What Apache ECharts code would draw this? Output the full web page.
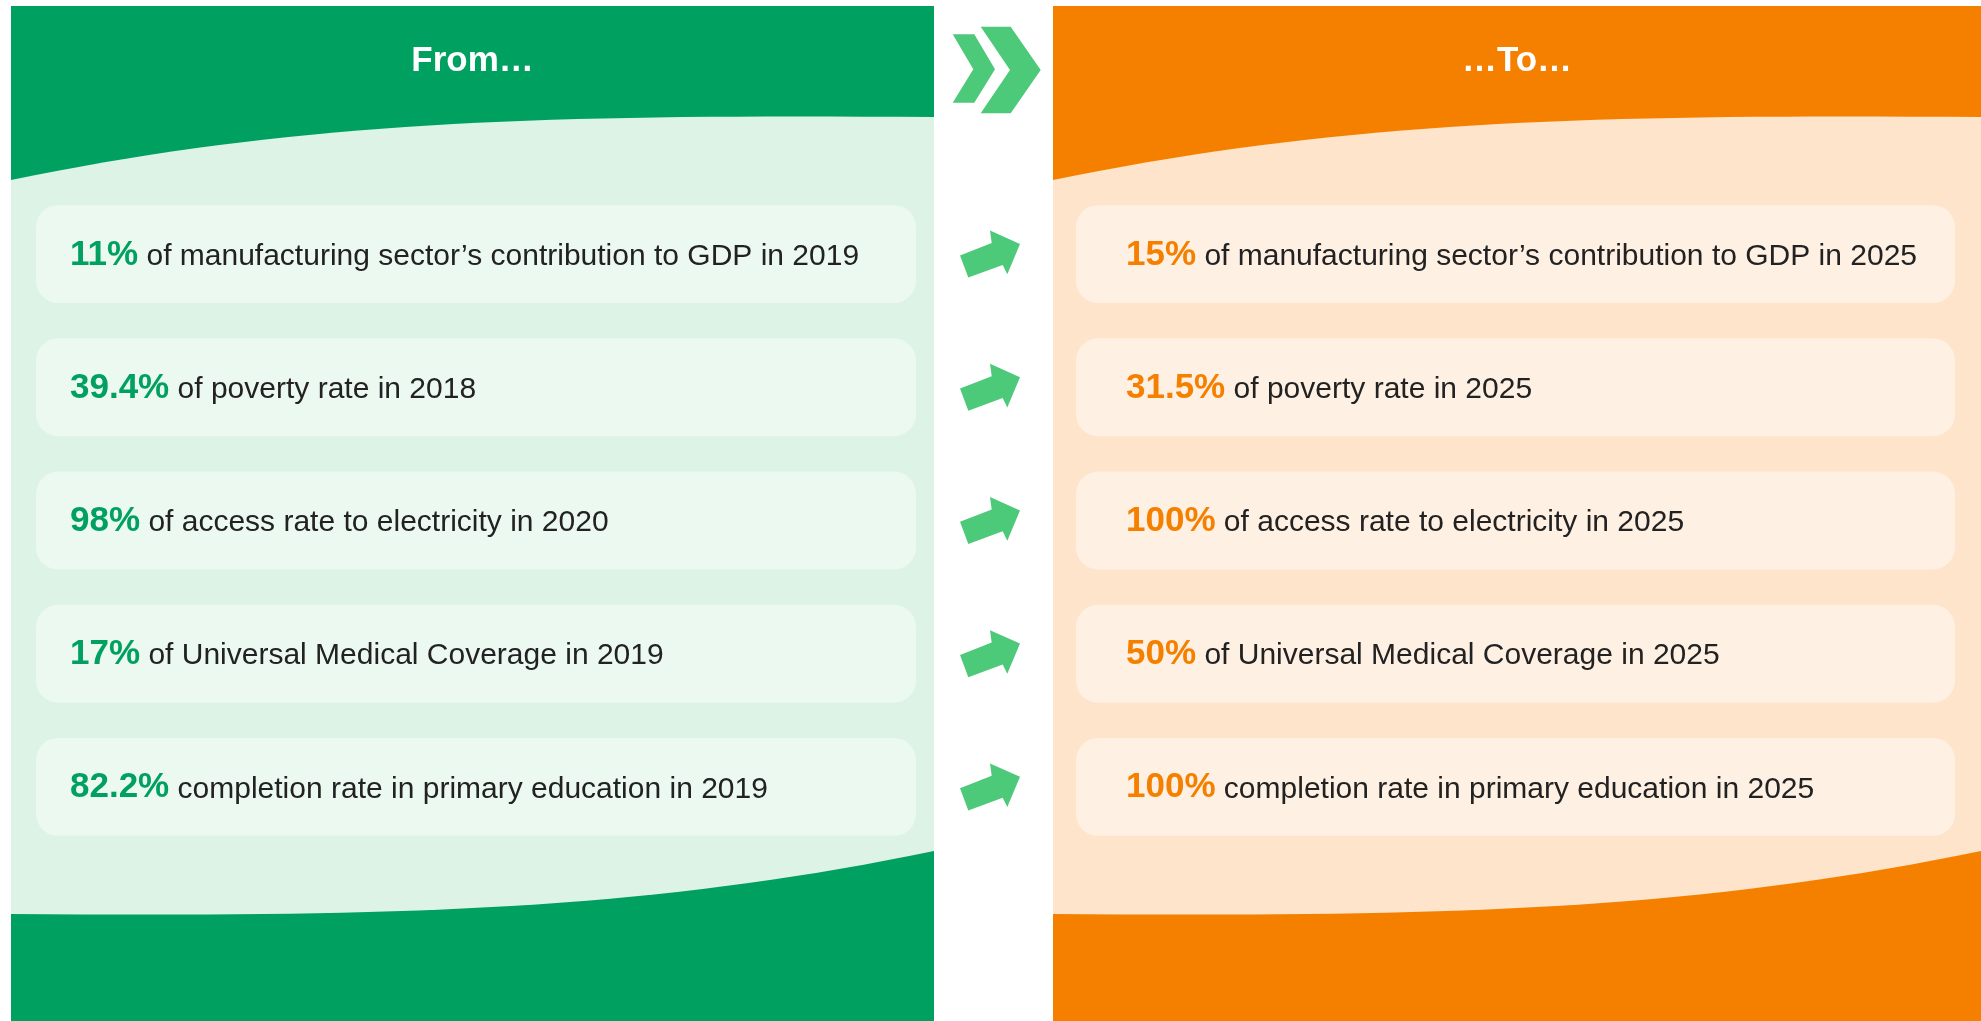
<!DOCTYPE html>
<html>
<head>
<meta charset="utf-8">
<title>From... To...</title>
<script src="https://cdn.jsdelivr.net/npm/echarts@6/dist/echarts.min.js"></script>
<style>
  html, body { margin: 0; padding: 0; background: #fff; }
  #main { width: 1981px; height: 1021px; }
</style>
</head>
<body>
<div id="main"></div>
<script>
// data
const rows = ['manufacturing', 'poverty', 'electricity', 'medical', 'education']
const fromValues = [11, 39.4, 98, 17, 82.2]
const fromText = [
  'of manufacturing sector\u2019s contribution to GDP in 2019',
  'of poverty rate in 2018',
  'of access rate to electricity in 2020',
  'of Universal Medical Coverage in 2019',
  'completion rate in primary education in 2019'
]
const toValues = [15, 31.5, 100, 50, 100]
const toText = [
  'of manufacturing sector\u2019s contribution to GDP in 2025',
  'of poverty rate in 2025',
  'of access rate to electricity in 2025',
  'of Universal Medical Coverage in 2025',
  'completion rate in primary education in 2025'
]
const panelTitles = ['From\u2026', '\u2026To\u2026']

// styles
const FONT = '"Liberation Sans", Arial, sans-serif'
const VALUE_FONT = 'bold 35px ' + FONT
const TEXT_FONT = '30px ' + FONT
const GREEN = '#00a060'
const ORANGE = '#f58000'
const themes = [
  { dark: GREEN, light: '#dcf3e5', card: '#ecf9f0', x0: 11, x1: 934 },
  { dark: ORANGE, light: '#fee4ca', card: '#fef0e2', x0: 1053, x1: 1981 }
]
const cardX = [[36, 916], [1076, 1955]]
const textPad = [34, 50]
const ARROW = 'path://M0,24.6 L31.7,12.3 L30,0 L60,13.3 L47.3,43.3 L42.7,34 L8.3,46.6 Z'

// width of the bold value, so the description can follow it
const measureCtx = document.createElement('canvas').getContext('2d')
function textWidth(str, font) {
  measureCtx.font = font
  return measureCtx.measureText(str).width
}

const chart = echarts.init(document.getElementById('main'))

function panelItem(params, api) {
  const t = themes[params.dataIndex]
  const px = (u, y) => api.coord([t.x0 + (t.x1 - t.x0) * u, y])
  const tl = px(0, 6)
  const br = px(1, 1021)
  const p = (u, y) => px(u, y).join(',')
  const d = 'M' + p(0, 180) +
    ' C' + p(0.313, 120) + ' ' + p(0.584, 114) + ' ' + p(1, 117) +
    ' L' + p(1, 851) +
    ' C' + p(0.687, 911) + ' ' + p(0.416, 917) + ' ' + p(0, 914) + ' Z'
  const mid = px(0.5, 61)
  return {
    type: 'group',
    children: [
      { type: 'rect', shape: { x: tl[0], y: tl[1], width: br[0] - tl[0], height: br[1] - tl[1] }, style: { fill: t.dark } },
      { type: 'path', shape: { pathData: d }, style: { fill: t.light } },
      {
        type: 'text', x: mid[0], y: mid[1],
        style: { text: panelTitles[params.dataIndex], fill: '#fff', font: 'bold 35px ' + FONT, align: 'center', verticalAlign: 'middle' }
      }
    ]
  }
}

function cardRenderer(side) {
  const values = side === 0 ? fromValues : toValues
  const texts = side === 0 ? fromText : toText
  const color = side === 0 ? GREEN : ORANGE
  return function (params, api) {
    const i = params.dataIndex
    const a = api.coord([cardX[side][0], i])
    const b = api.coord([cardX[side][1], i])
    const h = api.size([0, 1])[1] * 0.735
    const label = values[i] + '%'
    const tx = a[0] + textPad[side]
    return {
      type: 'group',
      children: [
        {
          type: 'rect',
          shape: { x: a[0], y: a[1] - h / 2, width: b[0] - a[0], height: h, r: 22 },
          style: { fill: themes[side].card }
        },
        {
          type: 'text', x: tx, y: a[1] + 0.8,
          style: { text: label, font: VALUE_FONT, fill: color, align: 'left', verticalAlign: 'middle' }
        },
        {
          type: 'text', x: tx + textWidth(label, VALUE_FONT), y: a[1] + 2.5,
          style: { text: ' ' + texts[i], font: TEXT_FONT, fill: '#222', align: 'left', verticalAlign: 'middle' }
        }
      ]
    }
  }
}

chart.setOption({
  animation: false,
  grid: [
    { left: 0, right: 0, top: 0, bottom: 0 },
    { left: 0, right: 0, top: 187.5, height: 666 }
  ],
  xAxis: [
    { type: 'value', gridIndex: 0, min: 0, max: 1981, show: false },
    { type: 'value', gridIndex: 1, min: 0, max: 1981, show: false }
  ],
  yAxis: [
    { type: 'value', gridIndex: 0, min: 0, max: 1021, inverse: true, show: false },
    { type: 'category', gridIndex: 1, data: rows, inverse: true, show: false }
  ],
  graphic: [
    {
      type: 'polygon', z: 3,
      shape: { points: [[952.7, 34.3], [974.3, 34.3], [995, 69.3], [974.3, 102.7], [952.7, 102.7], [973.3, 69.3]] },
      style: { fill: '#4dc97a' }
    },
    {
      type: 'polygon', z: 3,
      shape: { points: [[980.7, 26.7], [1010.7, 26.7], [1040.7, 70], [1010.7, 113.3], [980.7, 113.3], [1010, 70]] },
      style: { fill: '#4dc97a' }
    }
  ],
  series: [
    {
      type: 'custom', xAxisIndex: 0, yAxisIndex: 0, z: 1, silent: true,
      data: panelTitles.map((t, i) => [i, 0]),
      renderItem: panelItem
    },
    {
      type: 'custom', xAxisIndex: 1, yAxisIndex: 1, z: 5, silent: true,
      data: rows.map((r, i) => [0, i]),
      renderItem: cardRenderer(0)
    },
    {
      type: 'custom', xAxisIndex: 1, yAxisIndex: 1, z: 5, silent: true,
      data: rows.map((r, i) => [0, i]),
      renderItem: cardRenderer(1)
    },
    {
      type: 'scatter', xAxisIndex: 1, yAxisIndex: 1, z: 6, silent: true,
      symbol: ARROW, symbolSize: [60, 47],
      itemStyle: { color: '#4dc97a', opacity: 1 },
      data: rows.map((r, i) => [990, i])
    }
  ]
})
</script>
</body>
</html>
